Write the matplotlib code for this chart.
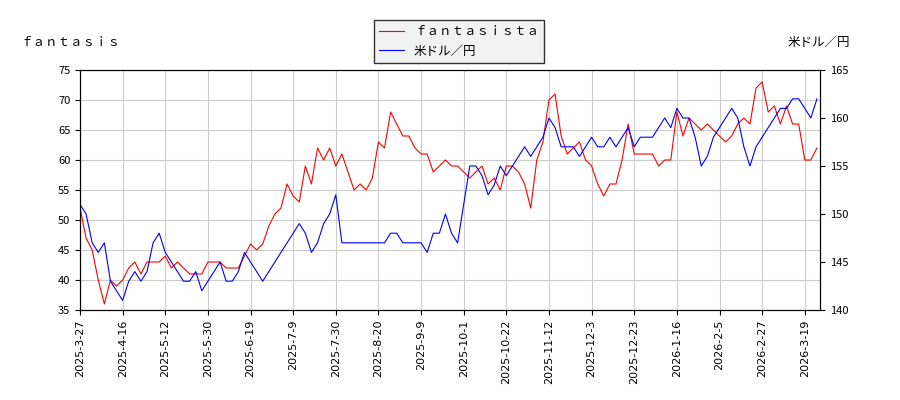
import matplotlib
matplotlib.use("Agg")
import matplotlib.pyplot as plt
import numpy as np

plt.rcParams['font.family'] = ['Noto Sans CJK JP', 'DejaVu Sans']

tick_labels = ["2025-3-27","2025-4-16","2025-5-12","2025-5-30","2025-6-19","2025-7-9","2025-7-30",
               "2025-8-20","2025-9-9","2025-10-1","2025-10-22","2025-11-12","2025-12-3","2025-12-23",
               "2026-1-16","2026-2-5","2026-2-27","2026-3-19"]

fantasista = [52,47,45,40,36,40,39,
              40,42,43,41,43,43,43,
              44,42,43,42,41,41,41,
              43,43,43,42,42,42,44,
              46,45,46,49,51,52,56,
              54,53,59,56,62,60,62,
              59,61,58,55,56,55,57,
              63,62,68,66,64,64,62,
              61,61,58,59,60,59,59,
              58,57,58,59,56,57,55,
              59,59,58,56,52,60,63,
              70,71,64,61,62,63,60,
              59,56,54,56,56,60,66,
              61,61,61,61,59,60,60,
              68,64,67,66,65,66,65,
              64,63,64,66,67,66,72,
              73,68,69,66,69,66,66,
              60,60,62]

usdjpy = [151,150,147,146,147,143,142,
          141,143,144,143,144,147,148,
          146,145,144,143,143,144,142,
          143,144,145,143,143,144,146,
          145,144,143,144,145,146,147,
          148,149,148,146,147,149,150,
          152,147,147,147,147,147,147,
          147,147,148,148,147,147,147,
          147,146,148,148,150,148,147,
          151,155,155,154,152,153,155,
          154,155,156,157,156,157,158,
          160,159,157,157,157,156,157,
          158,157,157,158,157,158,159,
          157,158,158,158,159,160,159,
          161,160,160,158,155,156,158,
          159,160,161,160,157,155,157,
          158,159,160,161,161,162,162,
          161,160,162]

x1 = np.arange(len(fantasista)) * 2
x2 = np.arange(len(usdjpy)) * 2

fig = plt.figure(figsize=(9, 4), dpi=100)
ax = fig.add_axes([80/900, 90/400, 740/900, 240/400])
ax2 = ax.twinx()
ax.plot(x1, fantasista, color='red', lw=0.8, label='ｆａｎｔａｓｉｓｔａ')
ax2.plot(x2, usdjpy, color='blue', lw=0.8, label='米ドル／円')
ax.set_xlim(0, 243)
ax.set_ylim(35, 75)
ax2.set_ylim(140, 165)
ax.set_yticks(range(35, 76, 5))
ax2.set_yticks(range(140, 166, 5))
ax.set_xticks(np.arange(len(tick_labels)) * 14)
ax.set_xticklabels(tick_labels, rotation=90, fontsize=7, family='DejaVu Sans')
for a in (ax, ax2):
    a.tick_params(labelsize=8)
ax.grid(True, color='#cccccc', lw=0.8)
ax.set_axisbelow(True)
h1, l1 = ax.get_legend_handles_labels()
h2, l2 = ax2.get_legend_handles_labels()
fig.legend(h1 + h2, l1 + l2, loc='upper center', bbox_to_anchor=(0.51, 0.965),
           fontsize=9, fancybox=False, edgecolor='#333333', facecolor='#f2f2f2', framealpha=1)
fig.text(20/900, 0.885, 'ｆａｎｔａｓｉｓ', fontsize=9)
fig.text(850/900, 0.885, '米ドル／円', fontsize=9, ha='right')
fig.savefig('out.png')
